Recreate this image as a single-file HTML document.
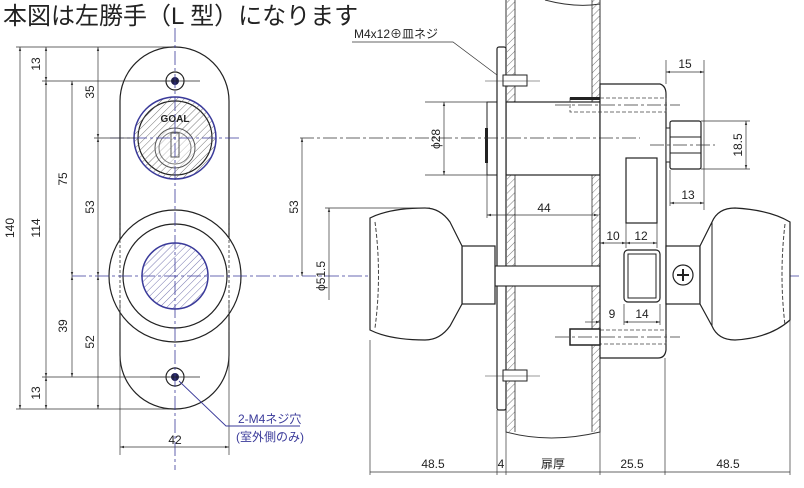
<!DOCTYPE html>
<html><head><meta charset="utf-8"><style>
body{margin:0;background:#fff;width:804px;height:488px;overflow:hidden}
svg{display:block}
text{font-family:"Liberation Sans","Noto Sans CJK JP",sans-serif;fill:#222}
</style></head><body>
<svg width="804" height="488" viewBox="0 0 804 488" xmlns="http://www.w3.org/2000/svg">
<defs>
<pattern id="h" width="5" height="5" patternUnits="userSpaceOnUse" patternTransform="rotate(45)">
<line x1="0" y1="0" x2="0" y2="5" stroke="#555" stroke-width="0.8"/></pattern>
<pattern id="hb" width="5" height="5" patternUnits="userSpaceOnUse" patternTransform="rotate(45)">
<line x1="0" y1="0" x2="0" y2="5" stroke="#6a6aa8" stroke-width="0.9"/></pattern>
<marker id="a" viewBox="0 0 10 10" refX="10" refY="5" markerWidth="6" markerHeight="6" orient="auto-start-reverse"><path d="M0,2 L10,5 L0,8z" fill="#333"/></marker>
</defs>
<text x="3" y="24" font-size="24">本図は左勝手（L 型）になります</text>

<!-- LEFT VIEW -->
<g stroke="#222" fill="none" stroke-width="1.2">
<rect x="120" y="47" width="109" height="362" rx="54" fill="#fff"/>
<circle cx="175" cy="276" r="66" fill="#fff"/>
<circle cx="175" cy="276" r="52"/>
<circle cx="175" cy="138" r="37"/>
<circle cx="175" cy="81" r="9"/>
<circle cx="175" cy="377" r="9"/>
</g>
<line x1="120" y1="220" x2="120" y2="332" stroke="#333" stroke-dasharray="3,2" stroke-width="0.8"/>
<line x1="229" y1="220" x2="229" y2="332" stroke="#333" stroke-dasharray="3,2" stroke-width="0.8"/>
<circle cx="175" cy="138" r="41" fill="url(#h)" stroke="#3a3a9a" stroke-width="1.5"/>
<circle cx="175" cy="148" r="20" fill="#fff" fill-opacity="0.5" stroke="#555" stroke-width="1"/>
<circle cx="175" cy="148" r="16" fill="none" stroke="#777" stroke-width="1"/>
<rect x="171" y="133" width="8" height="24" fill="none" stroke="#555"/>
<text x="175" y="122" font-size="10" text-anchor="middle" fill="#666" font-weight="bold">GOAL</text>
<circle cx="175" cy="276" r="33" fill="url(#hb)" stroke="#3a3a9a" stroke-width="1.5"/>
<circle cx="175" cy="81" r="4" fill="#202050"/>
<circle cx="175" cy="377" r="4" fill="#202050"/>
<g stroke="#3a3a9a" stroke-width="0.8" stroke-dasharray="14,3,3,3">
<line x1="175" y1="28" x2="175" y2="470"/>
<line x1="110" y1="138" x2="240" y2="138"/>
<line x1="72" y1="276" x2="800" y2="276"/>
</g>
<g stroke="#222" stroke-width="0.8">
<line x1="150" y1="81" x2="200" y2="81"/><line x1="150" y1="377" x2="200" y2="377"/>
</g>
<!-- dims -->
<g stroke="#333" stroke-width="0.7" fill="none">
<line x1="16" y1="47" x2="170" y2="47"/><line x1="16" y1="409" x2="170" y2="409"/>
<line x1="42" y1="81" x2="170" y2="81"/><line x1="42" y1="377" x2="170" y2="377"/>
<line x1="94" y1="138" x2="135" y2="138"/>
<line x1="20" y1="47" x2="20" y2="409" marker-start="url(#a)" marker-end="url(#a)"/>
<line x1="46" y1="47" x2="46" y2="81" marker-start="url(#a)" marker-end="url(#a)"/>
<line x1="46" y1="81" x2="46" y2="377" marker-start="url(#a)" marker-end="url(#a)"/>
<line x1="46" y1="377" x2="46" y2="409" marker-start="url(#a)" marker-end="url(#a)"/>
<line x1="72" y1="81" x2="72" y2="276" marker-start="url(#a)" marker-end="url(#a)"/>
<line x1="72" y1="276" x2="72" y2="377" marker-start="url(#a)" marker-end="url(#a)"/>
<line x1="98" y1="47" x2="98" y2="138" marker-start="url(#a)" marker-end="url(#a)"/>
<line x1="98" y1="138" x2="98" y2="276" marker-start="url(#a)" marker-end="url(#a)"/>
<line x1="98" y1="276" x2="98" y2="409" marker-start="url(#a)" marker-end="url(#a)"/>
<line x1="120" y1="300" x2="120" y2="455"/><line x1="229" y1="300" x2="229" y2="455"/>
<line x1="120" y1="447" x2="229" y2="447" marker-start="url(#a)" marker-end="url(#a)"/>
</g>
<g font-size="12">
<text transform="translate(14,228) rotate(-90)" text-anchor="middle">140</text>
<text transform="translate(40,64) rotate(-90)" text-anchor="middle">13</text>
<text transform="translate(40,228) rotate(-90)" text-anchor="middle">114</text>
<text transform="translate(40,393) rotate(-90)" text-anchor="middle">13</text>
<text transform="translate(67,179) rotate(-90)" text-anchor="middle">75</text>
<text transform="translate(67,326) rotate(-90)" text-anchor="middle">39</text>
<text transform="translate(94,92) rotate(-90)" text-anchor="middle">35</text>
<text transform="translate(94,207) rotate(-90)" text-anchor="middle">53</text>
<text transform="translate(94,342) rotate(-90)" text-anchor="middle">52</text>
<text x="175" y="444" text-anchor="middle">42</text>
</g>
<polyline points="179,381 226,426 300,426" fill="none" stroke="#3a3a9a" stroke-width="0.9"/>
<text x="238" y="423" font-size="12" style="fill:#3a3a9a">2-M4ネジ穴</text>
<text x="236" y="441" font-size="12" style="fill:#3a3a9a">(室外側のみ)</text>

<!-- RIGHT VIEW -->
<path d="M506,0 L506,432 Q550,444 600,432 L600,0" fill="none" stroke="#333" stroke-width="1"/>
<path d="M545,0 Q575,8 600,4" fill="none" stroke="#333"/>
<rect x="507" y="0" width="8" height="432" fill="url(#h)"/>
<rect x="592" y="0" width="8" height="432" fill="url(#h)"/>
<line x1="515" y1="0" x2="515" y2="432" stroke="#333" stroke-width="0.8"/>
<line x1="592" y1="0" x2="592" y2="432" stroke="#333" stroke-width="0.8"/>
<rect x="506" y="102" width="94" height="73" fill="#fff" stroke="#222" stroke-width="1.2"/>
<rect x="487" y="102" width="10" height="73" fill="#fff" stroke="#222"/>
<rect x="485" y="128" width="3" height="35" fill="#222"/>
<rect x="497" y="47" width="9" height="363" rx="2" fill="#fff" stroke="#222" stroke-width="1.2"/>
<g stroke="#222" fill="#fff"><rect x="503" y="75" width="24" height="11"/><rect x="503" y="370" width="24" height="11"/></g>
<line x1="485" y1="81" x2="540" y2="81" stroke="#333" stroke-width="0.6"/>
<line x1="485" y1="376" x2="540" y2="376" stroke="#333" stroke-width="0.6"/>
<rect x="495" y="266" width="105" height="20" fill="#fff" stroke="#222" stroke-width="1.1"/>
<path d="M600,84 L660,84 Q666,86 666,94 L666,350 Q665,358 658,358 L600,358 Z" fill="#fff" stroke="#222" stroke-width="1.2"/>
<rect x="570" y="98" width="96" height="14" fill="none" stroke="#444" stroke-dasharray="4,2" stroke-width="0.8"/>
<rect x="570" y="330" width="96" height="14" fill="none" stroke="#444" stroke-dasharray="4,2" stroke-width="0.8"/>
<rect x="570" y="97" width="30" height="3" fill="#222"/>
<rect x="570" y="329" width="30" height="16" fill="#fff" stroke="#222" stroke-width="1.5"/>
<rect x="626" y="158" width="31" height="65" fill="#fff" stroke="#222" stroke-width="1.2"/>
<rect x="624" y="250" width="36" height="52" rx="4" fill="#fff" stroke="#222" stroke-width="1.2"/>
<rect x="628" y="254" width="28" height="44" fill="none" stroke="#222"/>
<rect x="670" y="121" width="31" height="48" rx="2" fill="#fff" stroke="#222" stroke-width="1.2"/>
<line x1="670" y1="137" x2="701" y2="137" stroke="#222"/><line x1="670" y1="153" x2="701" y2="153" stroke="#222"/>
<rect x="666" y="128" width="4" height="34" fill="#fff" stroke="#222"/>
<rect x="666" y="246" width="34" height="58" fill="#fff" stroke="#222" stroke-width="1.2"/>
<circle cx="683" cy="275" r="10" fill="#fff" stroke="#222" stroke-width="1.2"/>
<path d="M677,275h12M683,269v12" stroke="#222" stroke-width="2"/>
<path d="M700,246 L712,222 Q718,208 735,208 Q770,210 790,222 L790,320 Q770,338 735,340 Q718,340 712,326 L700,304 Z" fill="#fff" stroke="#222" stroke-width="1.2"/>
<line x1="712" y1="222" x2="712" y2="326" stroke="#222"/>
<path d="M785,224 Q779,275 785,325" fill="none" stroke="#444" stroke-dasharray="4,2"/>
<rect x="462" y="246" width="33" height="58" fill="#fff" stroke="#222" stroke-width="1.2"/>
<path d="M462,246 L450,222 Q440,208 425,208 Q390,208 370,218 L370,330 Q390,340 425,340 Q440,340 450,326 L462,304 Z" fill="#fff" stroke="#222" stroke-width="1.2"/>
<path d="M375,222 Q382,275 375,328" fill="none" stroke="#444" stroke-dasharray="4,2"/>
<g stroke="#333" stroke-width="0.7" stroke-dasharray="14,3,3,3">
<line x1="300" y1="138" x2="640" y2="138"/>
<line x1="650" y1="145" x2="715" y2="145"/>
<line x1="555" y1="105" x2="680" y2="105"/>
<line x1="555" y1="337" x2="680" y2="337"/>
</g>
<g stroke="#333" stroke-width="0.7" fill="none">
<line x1="425" y1="102" x2="487" y2="102"/><line x1="425" y1="175" x2="487" y2="175"/>
<line x1="444" y1="102" x2="444" y2="175" marker-start="url(#a)" marker-end="url(#a)"/>
<line x1="302" y1="138" x2="302" y2="276" marker-start="url(#a)" marker-end="url(#a)"/>
<line x1="325" y1="208" x2="430" y2="208"/>
<line x1="329" y1="208" x2="329" y2="300" marker-start="url(#a)"/>
<line x1="487" y1="175" x2="487" y2="218"/>
<line x1="487" y1="215" x2="598" y2="215" marker-start="url(#a)" marker-end="url(#a)"/>
<line x1="666" y1="60" x2="666" y2="84"/><line x1="704" y1="60" x2="704" y2="210"/>
<line x1="666" y1="72" x2="704" y2="72" marker-start="url(#a)" marker-end="url(#a)"/>
<line x1="701" y1="121" x2="750" y2="121"/><line x1="701" y1="169" x2="750" y2="169"/>
<line x1="746" y1="121" x2="746" y2="169" marker-start="url(#a)" marker-end="url(#a)"/>
<line x1="670" y1="170" x2="670" y2="206"/>
<line x1="670" y1="203" x2="704" y2="203" marker-start="url(#a)" marker-end="url(#a)"/>
<line x1="626" y1="223" x2="626" y2="248"/><line x1="657" y1="223" x2="657" y2="248"/>
<line x1="600" y1="243" x2="626" y2="243" marker-start="url(#a)" marker-end="url(#a)"/>
<line x1="626" y1="243" x2="657" y2="243" marker-start="url(#a)" marker-end="url(#a)"/>
<line x1="624" y1="304" x2="624" y2="325"/><line x1="660" y1="304" x2="660" y2="325"/>
<line x1="585" y1="322" x2="600" y2="322" marker-end="url(#a)"/>
<line x1="624" y1="322" x2="660" y2="322" marker-start="url(#a)" marker-end="url(#a)"/>
<line x1="370" y1="340" x2="370" y2="475"/><line x1="497" y1="410" x2="497" y2="475"/>
<line x1="506" y1="432" x2="506" y2="475"/><line x1="600" y1="432" x2="600" y2="475"/>
<line x1="665" y1="358" x2="665" y2="475"/><line x1="790" y1="320" x2="790" y2="475"/>
<line x1="370" y1="472" x2="790" y2="472"/>
<polyline points="352,42 453,42 497,75" />
</g>
<g font-size="12">
<text x="354" y="38" font-size="12">M4x12⊕皿ネジ</text>
<text transform="translate(440,139) rotate(-90)" text-anchor="middle">ϕ28</text>
<text transform="translate(298,207) rotate(-90)" text-anchor="middle">53</text>
<text transform="translate(325,276) rotate(-90)" text-anchor="middle">ϕ51.5</text>
<text x="544" y="212" text-anchor="middle">44</text>
<text x="685" y="68" text-anchor="middle">15</text>
<text transform="translate(742,145) rotate(-90)" text-anchor="middle">18.5</text>
<text x="688" y="199" text-anchor="middle">13</text>
<text x="613" y="240" text-anchor="middle">10</text>
<text x="641" y="240" text-anchor="middle">12</text>
<text x="612" y="318" text-anchor="middle">9</text>
<text x="642" y="318" text-anchor="middle">14</text>
<text x="433" y="468" text-anchor="middle">48.5</text>
<text x="501" y="468" text-anchor="middle">4</text>
<text x="553" y="468" text-anchor="middle">扉厚</text>
<text x="632" y="468" text-anchor="middle">25.5</text>
<text x="728" y="468" text-anchor="middle">48.5</text>
</g>
</svg>
</body></html>
